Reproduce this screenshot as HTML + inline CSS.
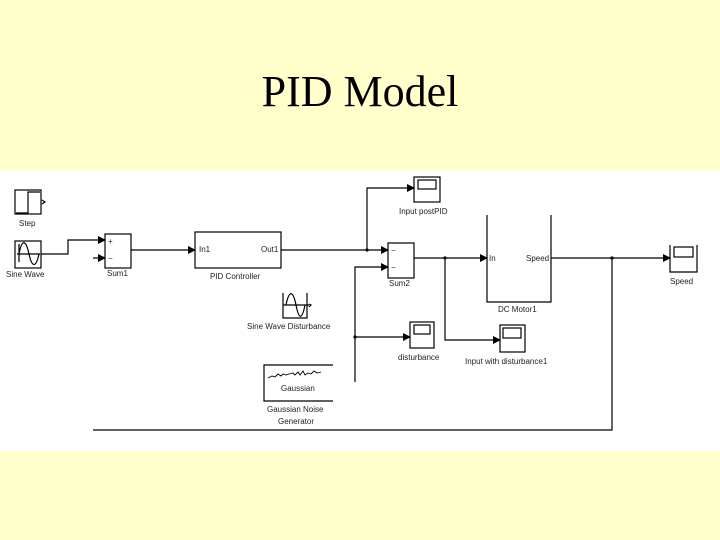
<!DOCTYPE html>
<html><head><meta charset="utf-8"><style>
html,body{margin:0;padding:0;width:720px;height:540px;background:#FFFFCC;overflow:hidden}
.t{position:absolute;left:0;width:720px;top:66px;text-align:center;font-family:"Liberation Serif",serif;font-size:44px;color:#000}
svg{position:absolute;left:0;top:0}
text{font-family:"Liberation Sans",sans-serif;font-size:8px;fill:#222}
</style></head><body>
<div class="t">PID Model</div>
<svg width="720" height="540" viewBox="0 0 720 540">
<defs><marker id="a" markerWidth="8" markerHeight="8" refX="7" refY="4" orient="auto" markerUnits="userSpaceOnUse"><path d="M0,0 L8,4 L0,8z" fill="#000"/></marker></defs>
<rect x="0" y="170" width="720" height="281" fill="#fff"/>
<g fill="none" stroke="#000" stroke-width="1.2">
<rect x="15" y="190" width="26" height="24"/>
<path d="M16,213 H28 V192 H40" />
<path d="M42,200 l3,2 -3,2"/>
<rect x="15" y="241" width="26" height="27"/>
<path d="M17,254 H40 M19,262 V244 M19,254 C22,238 26,240 29,254 C32,268 36,268 39,254"/>
<path d="M41,254 H68 V240 H105" marker-end="url(#a)"/>
<path d="M93,258 H105" marker-end="url(#a)"/>
<rect x="105" y="234" width="26" height="34"/>
<path d="M131,250 H195" marker-end="url(#a)"/>
<rect x="195" y="232" width="86" height="36"/>
<path d="M281,250 H388" marker-end="url(#a)"/>
<path d="M367,250 V188 H414" marker-end="url(#a)"/>
<rect x="414" y="177" width="26" height="25"/>
<rect x="418" y="180" width="18" height="9"/>
<rect x="388" y="243" width="26" height="35"/>
<path d="M355,382 V267 H388" marker-end="url(#a)"/>
<path d="M355,337 H410" marker-end="url(#a)"/>
<rect x="410" y="322" width="24" height="26"/>
<rect x="414" y="325" width="16" height="9"/>
<path d="M414,258 H487" marker-end="url(#a)"/>
<path d="M445,258 V340 H500" marker-end="url(#a)"/>
<rect x="500" y="325" width="25" height="27"/>
<rect x="503" y="328" width="18" height="10"/>
<path d="M487,215 V302 H551 V215"/>
<path d="M551,258 H670" marker-end="url(#a)"/>
<path d="M612,258 V430 H93"/>
<path d="M670,245 V272 H697 V245"/>
<rect x="674" y="247" width="19" height="10"/>
<path d="M283,293 V318 H307 V293 M283,305 H309 M286,305 C289,290 293,290 296,305 C299,320 302,320 305,305"/>
<path d="M309,304 l2,1 -2,2"/>
<path d="M333,365 H264 V401 H333"/>
<path d="M268,378 l4,-2 3,1 3,-3 3,2 2,-2 3,1 3,-1 4,-1 2,2 3,-3 2,3 3,-4 2,4 3,-2 3,1 3,-3 3,2 4,-1" stroke-width="0.9"/>
</g>
<g fill="#000">
<circle cx="367" cy="250" r="1.6"/><circle cx="445" cy="258" r="1.6"/><circle cx="612" cy="258" r="1.6"/><circle cx="355" cy="337" r="1.6"/>
</g>
<text x="19" y="226">Step</text>
<text x="6" y="277">Sine Wave</text>
<text x="108" y="244" font-size="9">+</text>
<text x="108" y="261" font-size="9">−</text>
<text x="107" y="276">Sum1</text>
<text x="199" y="252">In1</text>
<text x="261" y="252">Out1</text>
<text x="210" y="279">PID Controller</text>
<text x="399" y="214">Input postPID</text>
<text x="391" y="253" font-size="9">−</text>
<text x="391" y="270" font-size="9">−</text>
<text x="389" y="286">Sum2</text>
<text x="489" y="261">In</text>
<text x="526" y="261">Speed</text>
<text x="498" y="312">DC Motor1</text>
<text x="670" y="284">Speed</text>
<text x="398" y="360">disturbance</text>
<text x="465" y="364">Input with disturbance1</text>
<text x="247" y="329">Sine Wave Disturbance</text>
<text x="281" y="391">Gaussian</text>
<text x="267" y="412">Gaussian Noise</text>
<text x="278" y="424">Generator</text>
</svg>
</body></html>
